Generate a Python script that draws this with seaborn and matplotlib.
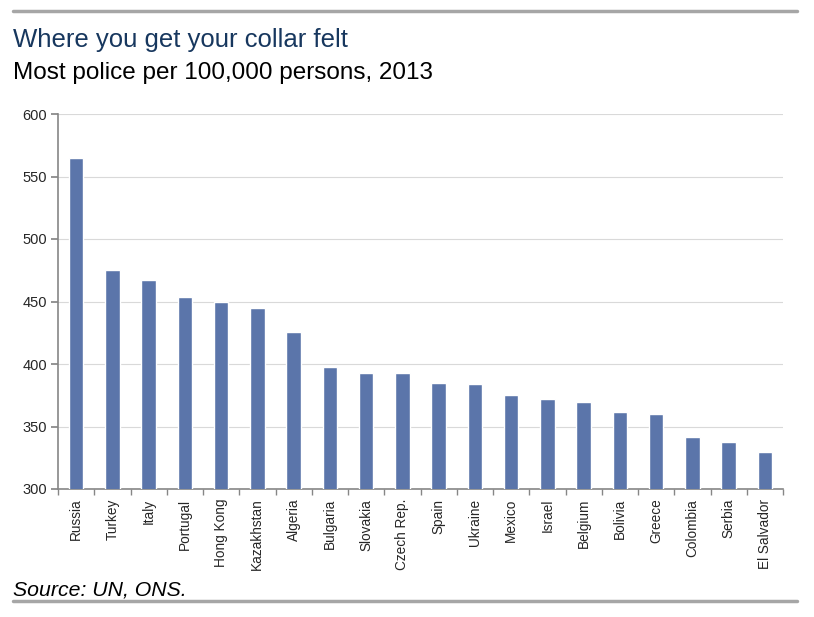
import matplotlib
matplotlib.use("Agg")
import matplotlib.pyplot as plt
import seaborn as sns
import pandas as pd
from matplotlib.lines import Line2D

countries = ["Russia", "Turkey", "Italy", "Portugal", "Hong Kong", "Kazakhstan", "Algeria",
             "Bulgaria", "Slovakia", "Czech Rep.", "Spain", "Ukraine", "Mexico", "Israel",
             "Belgium", "Bolivia", "Greece", "Colombia", "Serbia", "El Salvador"]
police = [565, 475, 467, 454, 450, 445, 426, 398, 393, 393, 385, 384, 375, 372, 370,
          362, 360, 342, 338, 330]
y_ticks = [300, 350, 400, 450, 500, 550, 600]

sns.set_theme(style="white")
plt.rcParams['font.family'] = ['Liberation Sans', 'DejaVu Sans']

df = pd.DataFrame({"country": countries, "police": police})

fig = plt.figure(figsize=(8.14, 6.17), dpi=100)
ax = fig.add_axes([58/814, 1-489/617, (783-58)/814, (489-114)/617])
sns.barplot(data=df, x="country", y="police", color="#5b75aa", width=0.4,
            saturation=1, ax=ax, zorder=3)
ax.set_ylim(300, 600)
ax.set_yticks(y_ticks)
ax.set_xlim(-0.5, len(countries) - 0.5)
ax.set_xlabel("")
ax.set_ylabel("")
ax.yaxis.grid(True, color="#d9d9d9", linewidth=0.8, zorder=0)
for s in ["top", "right"]:
    ax.spines[s].set_visible(False)
for s in ["left", "bottom"]:
    ax.spines[s].set_color("#868686")
    ax.spines[s].set_linewidth(1.2)
ax.tick_params(axis="y", labelsize=10.5, length=5, color="#868686", left=True, pad=3)
ax.tick_params(axis="x", labelsize=9.8, length=0, pad=7)
ax.set_xticks(range(len(countries)))
ax.set_xticklabels(countries, rotation=90)
ax.set_xticks([i + 0.5 for i in range(-1, len(countries))], minor=True)
ax.tick_params(axis="x", which="minor", length=4, color="#868686", bottom=True)

fig.text(13/814, 1-40/617, "Where you get your collar felt", fontsize=18.5,
         color="#17375e", va="center", ha="left")
fig.text(13/814, 1-73/617, "Most police per 100,000 persons, 2013", fontsize=17.5,
         color="black", va="center", ha="left")
fig.text(13/814, 1-590/617, "Source: UN, ONS.", fontsize=15.3, style="italic",
         color="black", va="center", ha="left")
fig.add_artist(Line2D([13/814, 797/814], [1-11/617, 1-11/617], color="#a6a6a6", lw=2.5))
fig.add_artist(Line2D([13/814, 797/814], [1-601/617, 1-601/617], color="#a6a6a6", lw=2.5))

fig.savefig("out.png", dpi=100)
